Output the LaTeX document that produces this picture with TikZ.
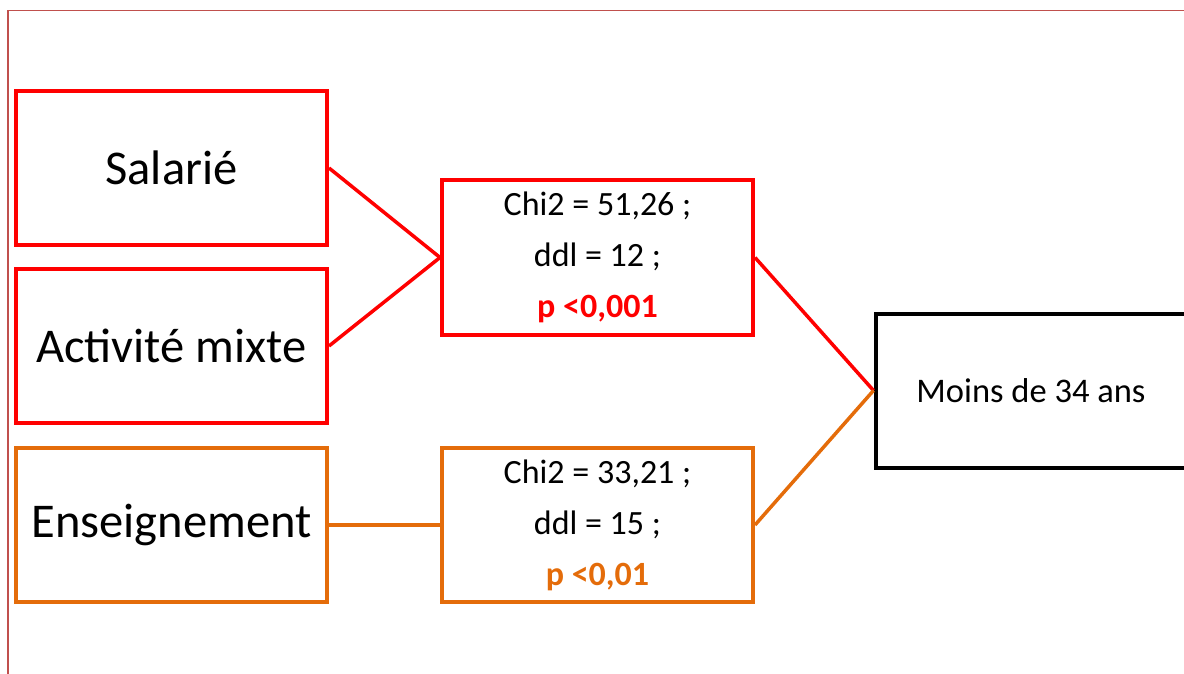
\documentclass[tikz,border=0pt]{standalone}
\usepackage{fontspec}
\setmainfont{Carlito}
\usepackage{tikz}
\usepackage{xcolor}
\definecolor{cadre}{HTML}{C0504D}
\definecolor{orangeF}{HTML}{E46C0A}

\begin{document}
\begin{tikzpicture} [x=1pt, y=-1pt,
    boite/.style={draw, line width=4pt, minimum width=311pt, minimum height=154pt, inner sep=0pt, align=center},
    grand/.style={font=\fontsize{48.5}{56}\selectfont},
    stat/.style={font=\fontsize{34}{51}\selectfont},
    moins/.style={font=\fontsize{34.5}{40}\selectfont} ]
    \useasboundingbox (0,0) rectangle (1184,674);
    \clip (0,0) rectangle (1184,674);
    \draw[cadre, line width=1.8pt] (8,10.5) rectangle (1200,690);

    \node[boite, red, text=black, grand] (sal) at (171.5,168) {Salarié};
    \node[boite, red, text=black, grand] (mix) at (171.5,346) {Activité mixte};
    \node[boite, orangeF, text=black, grand] (ens) at (171.5,525) {Enseignement};

    \node[boite, red, text=black, stat] (chiA) at (597.5,257.5)
      {Chi2 = 51,26 ;\\ ddl = 12 ;\\ \textcolor{red}{\textbf{p <0,001}}};
    \node[boite, orangeF, text=black, stat] (chiB) at (597.5,525)
      {Chi2 = 33,21 ;\\ ddl = 15 ;\\ \textcolor{orangeF}{\textbf{p <0,01}}};

    \node[boite, black, moins] (age) at (1031,390.5) {Moins de 34 ans};

      \path[red, line width=3.5pt]
      (sal.east) edge (chiA.west)
      (mix.east) edge (chiA.west)
      (chiA.east) edge (age.west)
      ;
      \path[orangeF, line width=3.5pt]
      (ens.east) edge (chiB.west)
      (chiB.east) edge (age.west)
      ;
    \end{tikzpicture}
\end{document}
